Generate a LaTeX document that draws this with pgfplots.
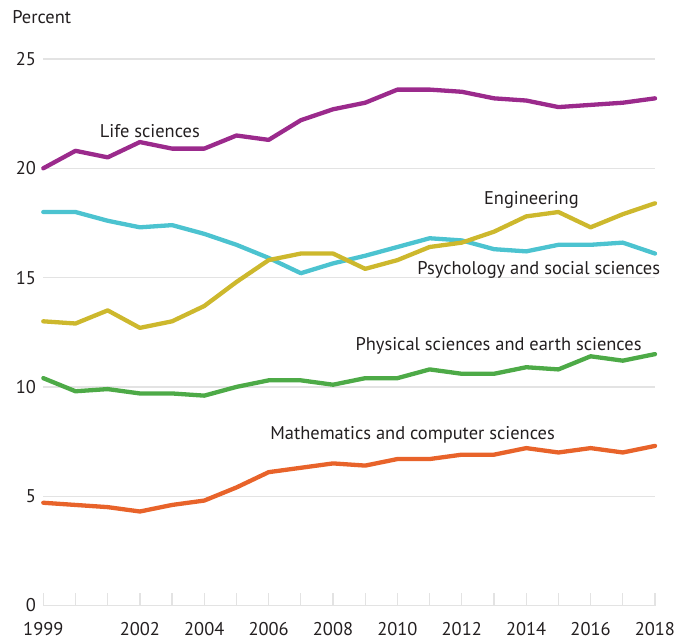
\documentclass[border=0pt]{standalone}
\usepackage{pgfplots}
\pgfplotsset{compat=1.18}
\usepackage{fontspec}
\setmainfont{PT Sans}
\definecolor{lifec}{HTML}{9B2A8C}
\definecolor{psyc}{HTML}{4CC3D0}
\definecolor{engc}{HTML}{CDB82D}
\definecolor{physc}{HTML}{4DAA47}
\definecolor{mathc}{HTML}{E8632A}
\definecolor{txt}{HTML}{231F20}
\definecolor{gridc}{HTML}{E3E3E3}
\begin{document}
\fontsize{18.5}{22}\selectfont
\begin{tikzpicture}
\begin{axis}[
  at={(0,0)}, anchor=south west,
  scale only axis, width=611.7bp, height=546.5bp,
  xmin=1999, xmax=2018, ymin=0, ymax=25,
  axis x line*=bottom, axis y line*=left,
  y axis line style={draw=none},
  x axis line style={draw=gridc, line width=1.3bp},
  xtick={1999,...,2018},
  xticklabels={1999,,,2002,,2004,,2006,,2008,,2010,,2012,,2014,,2016,,2018},
  xtick align=inside,
  major tick length=12bp,
  xtick style={draw=gridc, line width=1.3bp},
  ytick={0,5,10,15,20,25},
  ytick style={draw=none},
  ymajorgrids, grid style={draw=gridc, line width=1.3bp},
  /pgf/number format/assume math mode=true,
  ticklabel style={font=\fontsize{18.5}{22}\selectfont, text=txt},
  xticklabel style={yshift=-11bp},
  yticklabel style={xshift=-1bp},
  every axis plot/.append style={line width=4.3bp, line join=round, line cap=round},
  clip=false,
]
\addplot[color=lifec] coordinates {(1999,20.0)(2000,20.8)(2001,20.5)(2002,21.2)(2003,20.9)(2004,20.9)(2005,21.5)(2006,21.3)(2007,22.2)(2008,22.7)(2009,23.0)(2010,23.6)(2011,23.6)(2012,23.5)(2013,23.2)(2014,23.1)(2015,22.8)(2016,22.9)(2017,23.0)(2018,23.2)};
\addplot[color=psyc] coordinates {(1999,18.0)(2000,18.0)(2001,17.6)(2002,17.3)(2003,17.4)(2004,17.0)(2005,16.5)(2006,15.9)(2007,15.2)(2008,15.65)(2009,16.0)(2010,16.4)(2011,16.8)(2012,16.7)(2013,16.3)(2014,16.2)(2015,16.5)(2016,16.5)(2017,16.6)(2018,16.1)};
\addplot[color=engc] coordinates {(1999,13.0)(2000,12.9)(2001,13.5)(2002,12.7)(2003,13.0)(2004,13.7)(2005,14.8)(2006,15.8)(2007,16.1)(2008,16.1)(2009,15.4)(2010,15.8)(2011,16.4)(2012,16.6)(2013,17.1)(2014,17.8)(2015,18.0)(2016,17.3)(2017,17.9)(2018,18.4)};
\addplot[color=physc] coordinates {(1999,10.4)(2000,9.8)(2001,9.9)(2002,9.7)(2003,9.7)(2004,9.6)(2005,10.0)(2006,10.3)(2007,10.3)(2008,10.1)(2009,10.4)(2010,10.4)(2011,10.8)(2012,10.6)(2013,10.6)(2014,10.9)(2015,10.8)(2016,11.4)(2017,11.2)(2018,11.5)};
\addplot[color=mathc] coordinates {(1999,4.7)(2000,4.6)(2001,4.5)(2002,4.3)(2003,4.6)(2004,4.8)(2005,5.4)(2006,6.1)(2007,6.3)(2008,6.5)(2009,6.4)(2010,6.7)(2011,6.7)(2012,6.9)(2013,6.9)(2014,7.2)(2015,7.0)(2016,7.2)(2017,7.0)(2018,7.3)};
\node[text=txt] at (axis cs:2002.31,21.70) {Life sciences};
\node[text=txt] at (axis cs:2014.16,18.54) {Engineering};
\node[text=txt] at (axis cs:2014.39,15.34) {Psychology and social sciences};
\node[text=txt] at (axis cs:2013.14,11.87) {Physical sciences and earth sciences};
\node[text=txt] at (axis cs:2010.47,7.80) {Mathematics and computer sciences};
\node[text=txt, anchor=west, inner sep=0pt] at (axis cs:1998.03,26.9) {Percent};
\end{axis}
\pgfresetboundingbox
\useasboundingbox (-43.3bp,-34.5bp) rectangle (644.7bp,605.5bp);
\end{tikzpicture}
\end{document}
